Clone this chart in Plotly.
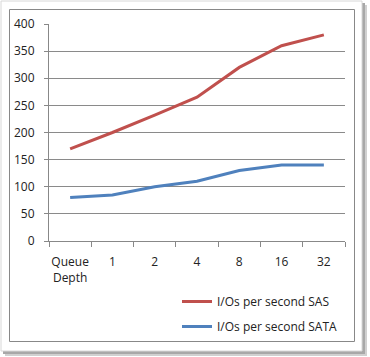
import plotly.graph_objects as go

categories = ["Queue<br>Depth", "1", "2", "4", "8", "16", "32"]
sas = [170, 200, 232, 265, 320, 360, 380]
sata = [80, 85, 100, 110, 130, 140, 140]
y_ticks = [0, 50, 100, 150, 200, 250, 300, 350, 400]

W, H = 370, 357
L, R, T, B = 49, 25, 24, 116
PW, PH = W - L - R, H - T - B

def px(x):
    return (x - L) / PW

def py(y):
    return (H - B - y) / PH

fig = go.Figure()
fig.add_trace(go.Scatter(x=categories, y=sas, mode="lines", name="I/Os per second SAS",
                         line=dict(color="#C0504D", width=3), legendgroup="a"))
fig.add_trace(go.Scatter(x=categories, y=sata, mode="lines", name="I/Os per second SATA",
                         line=dict(color="#4F81BD", width=3), legendgroup="b"))

shapes = [
    # shadow
    dict(type="rect", xref="paper", yref="paper", x0=px(5), x1=px(367), y0=py(5), y1=py(356),
         fillcolor="#d0d0d0", line=dict(width=0), layer="below"),
    dict(type="rect", xref="paper", yref="paper", x0=px(3), x1=px(365), y0=py(3), y1=py(354),
         fillcolor="#a8a8a8", line=dict(width=0), layer="below"),
    # white frame
    dict(type="rect", xref="paper", yref="paper", x0=px(1), x1=px(362), y0=py(1), y1=py(351),
         fillcolor="white", line=dict(color="#d8d8d8", width=1), layer="below"),
    # inner border
    dict(type="rect", xref="paper", yref="paper", x0=px(9.5), x1=px(354.5), y0=py(9.5), y1=py(341.5),
         fillcolor="white", line=dict(color="#888888", width=1), layer="below"),
]

fig.update_layout(
    width=W, height=H,
    margin=dict(l=L, r=R, t=T, b=B, autoexpand=False),
    paper_bgcolor="white",
    plot_bgcolor="rgba(0,0,0,0)",
    font=dict(family="Open Sans, Arial, sans-serif", size=12, color="#222222"),
    shapes=shapes,
    showlegend=True,
    legend=dict(x=px(177), y=py(287), xanchor="left", yanchor="top",
                bgcolor="rgba(0,0,0,0)", tracegroupgap=6, font=dict(size=12),
                itemwidth=30),
    xaxis=dict(type="category", range=[-0.5, 6.5], showgrid=False, automargin=False,
               showline=True, linecolor="#888888", linewidth=1, tickangle=0,
               ticks="outside", ticklen=5, tickcolor="#888888", tickson="boundaries",
               ticklabelstandoff=10, fixedrange=True),
    yaxis=dict(range=[0, 400], tickvals=y_ticks, showgrid=True, gridcolor="#8a8a8a",
               gridwidth=1, showline=True, linecolor="#888888", linewidth=1, automargin=False,
               ticks="outside", ticklen=4, tickcolor="#888888",
               ticklabelstandoff=7, zeroline=False, fixedrange=True),
)

fig.write_html("out.html", config={"displayModeBar": False},
               post_script="document.body.style.margin='0';")
